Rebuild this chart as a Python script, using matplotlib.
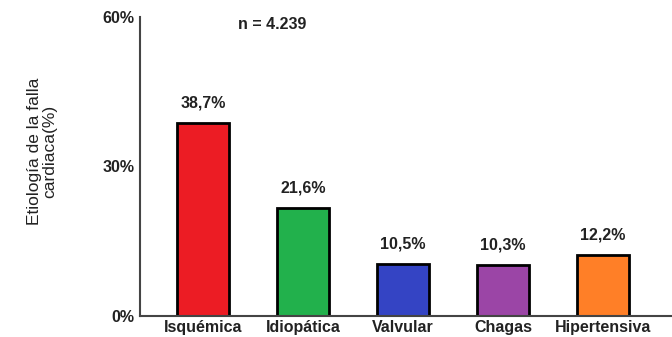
import numpy as np
import matplotlib.pyplot as plt
from matplotlib.ticker import PercentFormatter

# Etiología de la falla cardiaca (n = 4.239)
categorias = ['Isquémica', 'Idiopática', 'Valvular', 'Chagas', 'Hipertensiva']
porcentajes = [38.7, 21.6, 10.5, 10.3, 12.2]
etiquetas = ['38,7%', '21,6%', '10,5%', '10,3%', '12,2%']
colores = ['#ec1c24', '#22b14c', '#3444c4', '#9b45a6', '#ff7f27']
ticks_y = [0, 30, 60]

plt.rcParams['font.family'] = ['Liberation Sans', 'DejaVu Sans']
fs = 11.5

fig = plt.figure(figsize=(6.72, 3.37), dpi=100)
ax = fig.add_axes([0.208, 0.062, 0.792, 0.888])

x = np.arange(len(categorias))
ax.bar(x, porcentajes, width=0.52, color=colores, edgecolor='black', linewidth=2)

for xi, v, t in zip(x, porcentajes, etiquetas):
    ax.annotate(t, (xi, v), xytext=(0, 9), textcoords='offset points',
                ha='center', va='bottom', fontsize=fs, fontweight='bold', color='#222222')

ax.set_xlim(-0.63, 4.69)
ax.set_ylim(0, 60)
ax.set_xticks(x)
ax.set_xticklabels(categorias, fontsize=fs, fontweight='bold', color='#222222')
ax.set_yticks(ticks_y)
ax.yaxis.set_major_formatter(PercentFormatter(decimals=0))
for lbl in ax.get_yticklabels():
    lbl.set_fontweight('bold')
    lbl.set_fontsize(fs)
    lbl.set_color('#222222')
ax.tick_params(axis='y', length=0, pad=4)
ax.tick_params(axis='x', length=0, pad=3)

for s in ['top', 'right']:
    ax.spines[s].set_visible(False)
for s in ['left', 'bottom']:
    ax.spines[s].set_color('#444444')
    ax.spines[s].set_linewidth(1.5)

ax.text(0.69, 58.5, 'n = 4.239', ha='center', va='center',
        fontsize=fs, fontweight='bold', color='#222222')

fig.text(0.063, 0.55, 'Etiología de la falla\ncardiaca(%)', rotation=90,
         ha='center', va='center', fontsize=12.5, linespacing=1.0,
         color='#222222')

fig.savefig('out.png', dpi=100)
